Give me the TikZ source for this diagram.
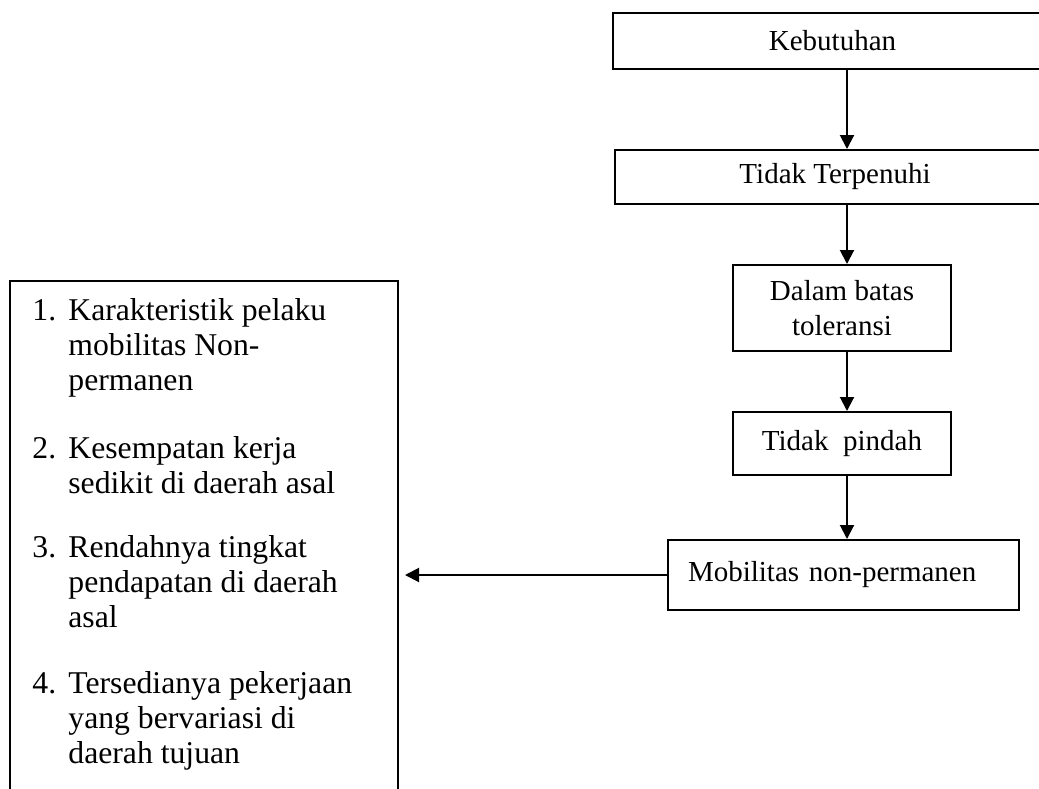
\documentclass[tikz,border=0pt]{standalone}
\usepackage{fontspec}
\setmainfont{Liberation Serif}
\usetikzlibrary{arrows.meta}

\begin{document}
\begin{tikzpicture}[x=0.5pt, y=-0.5pt,
    every node/.style={font=\fontsize{14.5}{17.5}\selectfont},
    box/.style={draw, line width=1pt, align=center, inner sep=0pt},
    arr/.style={line width=1pt, -{Triangle[width=7pt,length=7pt]}},
    item/.style={anchor=base west, align=left, inner sep=0pt, font=\fontsize{15.85}{17.5}\selectfont}]
    \useasboundingbox (0,0) rectangle (1039,788);

    \node (keb) at (832.5, 41) [box, minimum width=219.5pt, minimum height=28pt] {Kebutuhan};
    \node (tt) at (835, 177) [box, minimum width=220pt, minimum height=27pt] {Tidak Terpenuhi};
    \node (dbt) at (842, 308) [box, minimum width=109pt, minimum height=43pt] {Dalam batas\\toleransi};
    \node (tp) at (842, 443.5) [box, minimum width=109pt, minimum height=31.5pt] {Tidak~~pindah};
    \node (mob) at (843.5, 575) [box, align=left, text width=155.5pt, inner xsep=10pt, minimum height=35pt] {Mobilitas non-permanen};

    % kotak faktor (terbuka di bawah), baseline = baris terakhir
    \draw[line width=1pt] (10,790) |- (398,281) -- (398,790);
    \node (n1) at (32, 320) [item] {1.};
    \node (f1) at (68, 390) [item] {Karakteristik pelaku\\mobilitas Non-\\permanen};
    \node (n2) at (32, 458) [item] {2.};
    \node (f2) at (68, 493) [item] {Kesempatan kerja\\sedikit di daerah asal};
    \node (n3) at (32, 557) [item] {3.};
    \node (f3) at (68, 627) [item] {Rendahnya tingkat\\pendapatan di daerah\\asal};
    \node (n4) at (32, 693) [item] {4.};
    \node (f4) at (68, 763) [item] {Tersedianya pekerjaan\\yang bervariasi di\\daerah tujuan};

    \coordinate (jalur) at (847, 0);
    \coordinate (kiri) at (405, 575);

    \draw[arr] (keb.south -| jalur) to (tt.north -| jalur);
    \draw[arr] (tt.south -| jalur) to (dbt.north -| jalur);
    \draw[arr] (dbt.south -| jalur) to (tp.north -| jalur);
    \draw[arr] (tp.south -| jalur) to (mob.north -| jalur);
    \draw[arr] (mob.west) to (kiri);
  \end{tikzpicture}
\end{document}
